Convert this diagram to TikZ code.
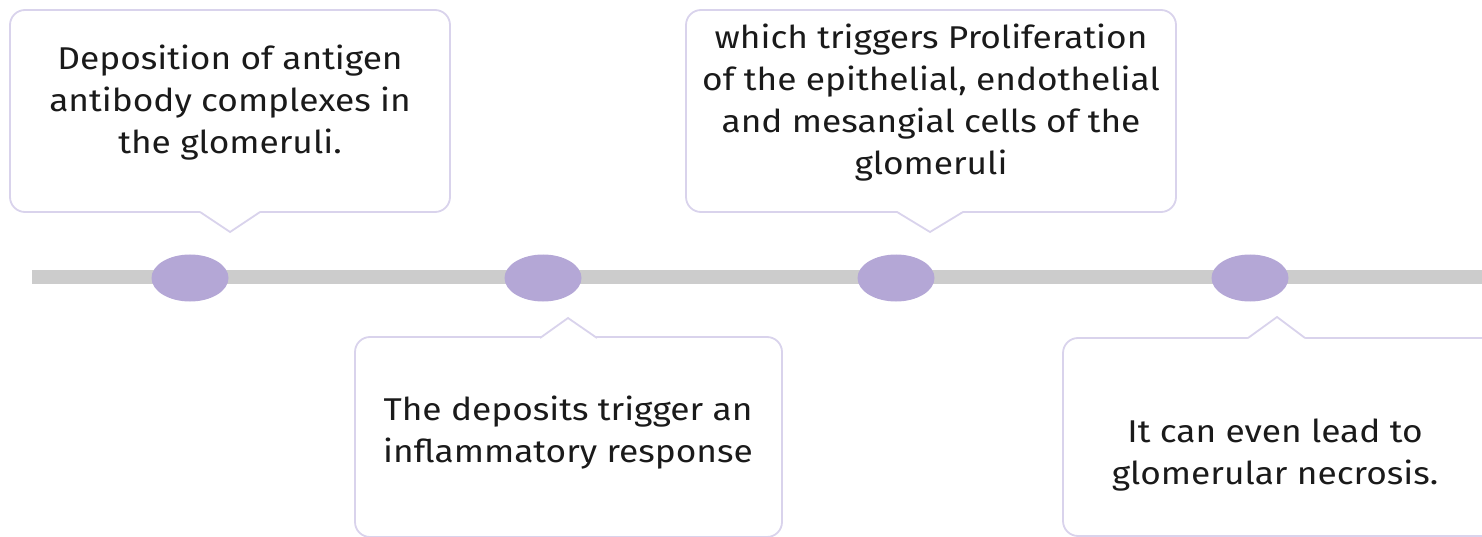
\documentclass[tikz,border=0pt]{standalone}
\usepackage{fontspec}
\setmainfont{Fira Sans}[FakeStretch=1.12]
\definecolor{track}{HTML}{CCCCCC}
\definecolor{dot}{HTML}{B4A7D6}
\definecolor{edge}{HTML}{D9D3EC}
\definecolor{ink}{HTML}{1A1A1A}
\tikzset{
  box/.style={draw=edge, line width=1.8pt, rounded corners=15pt, fill=white, inner sep=0pt},
  ptr/.style={draw=edge, line width=1.8pt, line join=miter},
  gap/.style={fill=white},
  milestone/.style={ellipse, fill=dot, minimum width=77pt, minimum height=47pt, inner sep=0pt},
  label/.style={align=center, text=ink, font=\fontsize{31.5pt}{42pt}\selectfont, inner sep=0pt},
}
\usetikzlibrary{shapes.geometric}
\begin{document}
\begin{tikzpicture}[x=1pt,y=-1pt]
\useasboundingbox (0,0) rectangle (1482,537);
% track
\fill[track] (32,270) rectangle (1482,284);
% milestones
\node[milestone] (m1) at (190,278) {};
\node[milestone] (m2) at (543,278) {};
\node[milestone] (m3) at (896,278) {};
\node[milestone] (m4) at (1250,278) {};
% box 1 (top)
\node[box, minimum width=440pt, minimum height=202pt] (b1) at (230,111) {};
\fill[gap] (198,210) -- (262,210) -- (230,230) -- cycle;
\draw[ptr] (200,212) -- (230,232) -- (260,212);
\node[label] (t1) at (230,103) {Deposition of antigen\\antibody complexes in\\the glomeruli.};
% box 2 (top)
\node[box, minimum width=490pt, minimum height=202pt] (b2) at (931,111) {};
\fill[gap] (895,210) -- (965,210) -- (930,230) -- cycle;
\draw[ptr] (897,212) -- (930,232) -- (963,212);
\node[label] (t2) at (931,103) {which triggers Proliferation\\of the epithelial, endothelial\\and mesangial cells of the\\glomeruli};
% box 3 (bottom)
\node[box, minimum width=427pt, minimum height=200pt] (b3) at (568.5,437) {};
\fill[gap] (538,340) -- (599,340) -- (568,320) -- cycle;
\draw[ptr] (540,338) -- (568,318) -- (597,338);
\node[label] (t3) at (568,433) {The deposits trigger an\\inflammatory response};
% box 4 (bottom)
\node[box, minimum width=440pt, minimum height=198pt] (b4) at (1283,437) {};
\fill[gap] (1246,340) -- (1307,340) -- (1277,320) -- cycle;
\draw[ptr] (1248,338) -- (1277,317) -- (1305,338);
\node[label] (t4) at (1275,455) {It can even lead to\\glomerular necrosis.};
\end{tikzpicture}
\end{document}
